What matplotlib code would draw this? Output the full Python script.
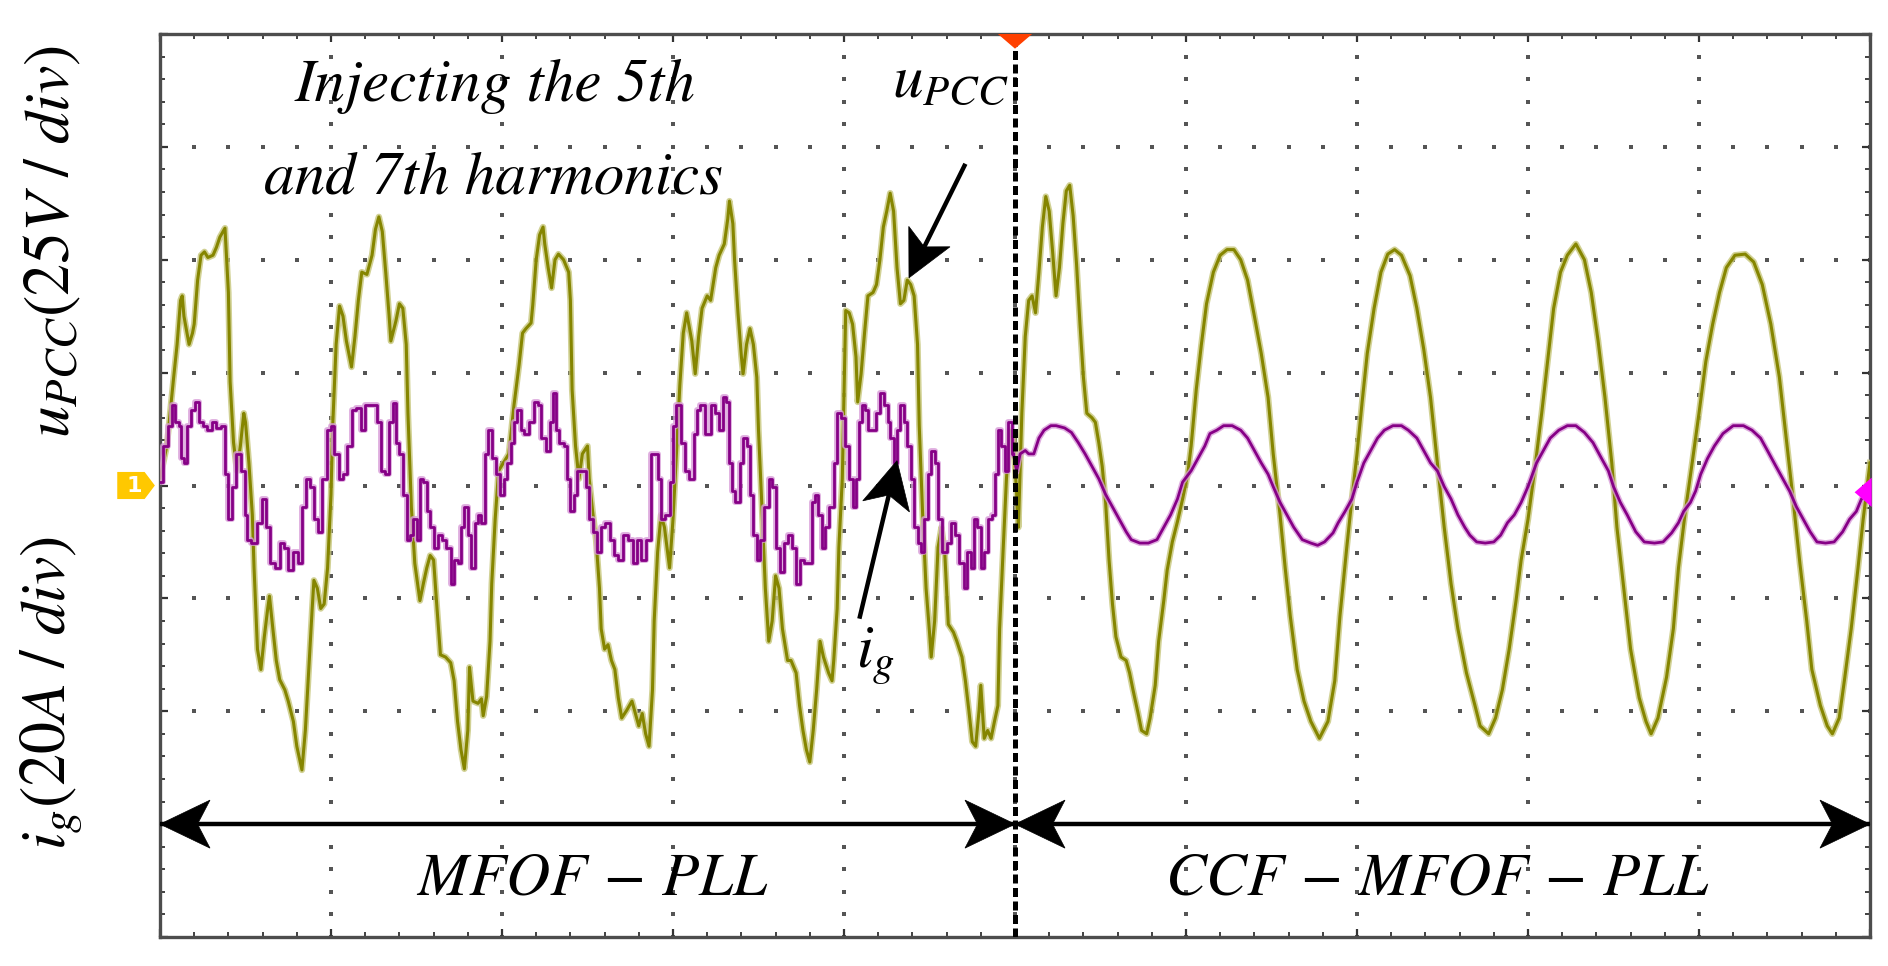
import numpy as np
import matplotlib
matplotlib.use('Agg')
import matplotlib.pyplot as plt
from matplotlib.patches import Polygon

plt.rcParams['mathtext.fontset'] = 'stix'

# scope screen: 10 x 8 divisions, values in div
# u_pcc: 25 V/div, i_g: 20 A/div
u_t = [0.00, 0.04, 0.08, 0.10, 0.12, 0.13, 0.14, 0.17, 0.19, 0.20, 0.22, 0.24, 0.26, 0.28, 0.31, 0.33, 0.35, 0.38,
       0.39, 0.40, 0.41, 0.43, 0.45, 0.47, 0.49, 0.50, 0.52, 0.54, 0.55, 0.57, 0.59, 0.61, 0.63, 0.64, 0.66, 0.68,
       0.70, 0.73, 0.75, 0.78, 0.80, 0.83, 0.85, 0.87, 0.89, 0.90, 0.92, 0.94, 0.96, 0.98, 1.00, 1.01, 1.03, 1.05,
       1.07, 1.09, 1.12, 1.14, 1.16, 1.18, 1.21, 1.24, 1.26, 1.28, 1.30, 1.32, 1.34, 1.35, 1.38, 1.40, 1.42, 1.44,
       1.45, 1.47, 1.49, 1.52, 1.54, 1.56, 1.58, 1.60, 1.62, 1.64, 1.67, 1.70, 1.72, 1.74, 1.76, 1.78, 1.80, 1.81,
       1.83, 1.86, 1.88, 1.89, 1.91, 1.93, 1.94, 1.96, 1.98,
       2.04, 2.07, 2.10, 2.12, 2.14, 2.17, 2.18, 2.20, 2.22, 2.24, 2.25, 2.27, 2.29, 2.31, 2.33, 2.36, 2.39, 2.40,
       2.41, 2.43, 2.45, 2.47, 2.50, 2.51, 2.53, 2.55, 2.57, 2.58, 2.60, 2.62, 2.64, 2.66, 2.68, 2.70, 2.73, 2.76,
       2.78, 2.80, 2.82, 2.84, 2.86, 2.88, 2.89, 2.91, 2.93, 2.95, 2.98, 3.00, 3.02, 3.04, 3.06, 3.08, 3.11, 3.13,
       3.15, 3.17, 3.20, 3.22, 3.25, 3.27, 3.30, 3.32, 3.33, 3.35, 3.36, 3.38, 3.40, 3.41, 3.43, 3.45, 3.47, 3.49,
       3.50, 3.52, 3.54, 3.56, 3.58, 3.60, 3.62, 3.64, 3.67, 3.69, 3.72, 3.74, 3.76, 3.78, 3.80, 3.82, 3.84, 3.86,
       3.88, 3.91, 3.93, 3.94, 3.96, 3.97, 3.99,
       4.01, 4.03, 4.05, 4.07, 4.08, 4.10, 4.12, 4.14, 4.17, 4.19, 4.21, 4.23, 4.25, 4.27, 4.29, 4.31, 4.33, 4.35,
       4.37, 4.39, 4.41, 4.43, 4.44, 4.46, 4.48, 4.50, 4.51, 4.53, 4.55, 4.57, 4.59, 4.61, 4.64, 4.66, 4.69, 4.71,
       4.73, 4.75, 4.77, 4.79, 4.80, 4.82, 4.84, 4.86, 4.88, 4.90, 4.91, 4.93, 4.95, 4.97, 4.99,
       5.01, 5.02, 5.04, 5.06, 5.08, 5.10, 5.12, 5.14, 5.16, 5.18, 5.20, 5.22, 5.24, 5.26, 5.28, 5.30, 5.32, 5.34,
       5.36, 5.38, 5.40, 5.42, 5.45, 5.47, 5.49, 5.51, 5.53, 5.55, 5.57, 5.59, 5.62, 5.65, 5.67, 5.69, 5.72, 5.74,
       5.77, 5.79, 5.82, 5.84, 5.87, 5.89, 5.92, 5.95, 5.98,
       6.01, 6.03, 6.06, 6.09, 6.12, 6.16, 6.20, 6.24, 6.28, 6.32, 6.36, 6.40, 6.44, 6.48, 6.51, 6.55, 6.58, 6.61,
       6.65, 6.69, 6.73, 6.78, 6.83, 6.87, 6.90, 6.94, 6.97, 7.00, 7.03, 7.06, 7.10, 7.14, 7.18, 7.22, 7.26, 7.31,
       7.35, 7.39, 7.43, 7.47, 7.51, 7.55, 7.59, 7.64, 7.69, 7.72, 7.77, 7.81, 7.85, 7.89, 7.93, 7.96,
       8.00, 8.04, 8.08, 8.12, 8.15, 8.19, 8.23, 8.28, 8.33, 8.37, 8.41, 8.45, 8.49, 8.52, 8.56, 8.60, 8.65, 8.69,
       8.72, 8.76, 8.81, 8.85, 8.88, 8.92, 8.96, 9.00, 9.04, 9.08, 9.12, 9.16, 9.21, 9.27, 9.32, 9.37, 9.42, 9.47,
       9.51, 9.55, 9.59, 9.63, 9.66, 9.71, 9.75, 9.78, 9.82, 9.85, 9.89, 9.93, 9.96, 10.00]
u_pcc = [0.06, 0.35, 0.96, 1.25, 1.64, 1.68, 1.50, 1.25, 1.35, 1.43, 1.82, 2.04, 2.07, 2.02, 2.04, 2.11, 2.20, 2.28,
         2.00, 1.71, 0.92, 0.38, 0.13, 0.35, 0.64, 0.56, 0.20, -0.26, -0.73, -1.45, -1.63, -1.34, -1.09, -0.98,
         -1.27, -1.55, -1.72, -1.81, -1.91, -2.09, -2.31, -2.52, -2.17, -1.63, -1.09, -0.84, -0.91, -1.09, -1.05,
         -0.73, -0.08, 0.53, 1.25, 1.59, 1.50, 1.28, 1.05, 1.32, 1.64, 1.89, 1.87, 2.04, 2.27, 2.38, 2.25, 1.89,
         1.50, 1.28, 1.46, 1.61, 1.57, 1.25, 0.64, -0.19, -0.69, -1.02, -0.87, -0.73, -0.62, -0.66, -1.09, -1.50,
         -1.52, -1.57, -1.73, -2.09, -2.34, -2.51, -2.17, -1.61, -1.91, -1.93, -1.89, -2.04, -1.87, -1.38, -0.87,
         -0.30, 0.13,
         0.28, 0.71, 1.07, 1.35, 1.39, 1.44, 1.60, 2.00, 2.22, 2.29, 2.14, 1.93, 1.75, 2.00, 2.05, 2.00, 1.89, 1.64,
         0.85, 0.35, 0.06, 0.28, 0.35, 0.06, -0.23, -0.48, -0.91, -1.27, -1.45, -1.41, -1.55, -1.63, -1.88, -2.06,
         -1.99, -1.91, -2.02, -2.13, -2.02, -2.20, -2.31, -1.81, -1.20, -0.59, -0.26, -0.37, -0.73, -0.30, 0.28,
         0.89, 1.35, 1.53, 1.28, 0.99, 1.32, 1.57, 1.68, 1.64, 1.93, 2.04, 2.14, 2.36, 2.52, 2.32, 2.00, 1.53,
         1.14, 0.99, 1.25, 1.39, 1.25, 0.96, 0.49, -0.19, -0.91, -1.38, -1.20, -0.80, -0.91, -1.27, -1.55, -1.55,
         -1.66, -1.95, -2.17, -2.34, -2.45, -2.17, -1.81, -1.38, -1.52, -1.66, -1.73, -1.55, -1.09, -0.55, 0.06,
         1.55, 1.53, 1.43, 1.14, 0.74, 0.99, 1.35, 1.68, 1.71, 1.78, 2.00, 2.29, 2.43, 2.59, 2.43, 1.93, 1.61, 1.64,
         1.82, 1.78, 1.68, 1.25, 0.53, -0.26, -0.91, -1.30, -1.52, -1.20, -0.55, -0.37, -0.62, -1.23, -1.30, -1.38,
         -1.52, -1.73, -1.99, -2.27, -2.31, -1.99, -1.77, -2.24, -2.17, -2.24, -2.09, -1.95, -1.27, -0.59, 0.06,
         0.49, 0.42,
         -0.08, -0.37, 0.64, 1.32, 1.64, 1.68, 1.53, 1.89, 2.29, 2.56, 2.43, 2.07, 1.68, 1.93, 2.32, 2.61, 2.66,
         2.39, 1.96, 1.43, 0.96, 0.64, 0.60, 0.56, 0.38, 0.17, -0.15, -0.66, -1.05, -1.34, -1.52, -1.55, -1.66,
         -1.81, -2.02, -2.17, -2.20, -2.06, -1.77, -1.38, -1.02, -0.75, -0.50, -0.32, -0.12,
         0.10, 0.35, 0.85, 1.25, 1.61, 1.89, 2.04, 2.09, 2.09, 2.00, 1.82, 1.50, 1.17, 0.78, 0.28, -0.26, -0.73,
         -1.16, -1.63, -1.91, -2.09, -2.24, -2.09, -1.73, -1.16, -0.55, -0.12, 0.28, 0.74, 1.17, 1.57, 1.89, 2.05,
         2.09, 2.04, 1.86, 1.57, 1.21, 0.78, 0.20, -0.37, -0.87, -1.27, -1.66, -1.95, -2.13, -2.20, -2.06, -1.81,
         -1.45, -1.02, -0.66,
         -0.30, 0.15, 0.64, 1.17, 1.57, 1.89, 2.04, 2.14, 2.00, 1.71, 1.28, 0.78, 0.20, -0.37, -0.91, -1.45, -1.88,
         -2.09, -2.20, -2.06, -1.70, -1.27, -0.73, -0.23, 0.20, 0.64, 1.10, 1.43, 1.71, 1.93, 2.04, 2.05, 1.98,
         1.78, 1.43, 0.96, 0.42, -0.12, -0.69, -1.20, -1.63, -1.95, -2.13, -2.20, -2.06, -1.73, -1.27, -0.73,
         -0.30, 0.20]

ig_t = [0.00, 0.03, 0.06, 0.08, 0.10, 0.12, 0.13, 0.15, 0.17, 0.19, 0.22, 0.24, 0.26, 0.29, 0.32, 0.34, 0.37, 0.39,
        0.41, 0.43, 0.46, 0.49, 0.50, 0.52, 0.55, 0.58, 0.61, 0.63, 0.66, 0.69, 0.71, 0.74, 0.76, 0.79, 0.82, 0.84,
        0.87, 0.89, 0.91, 0.94, 0.96, 0.99, 1.01, 1.03, 1.06, 1.08, 1.11, 1.13, 1.16, 1.19, 1.21, 1.24, 1.26, 1.28,
        1.30, 1.33, 1.35, 1.37, 1.39, 1.40, 1.44, 1.45, 1.47, 1.49, 1.51, 1.53, 1.55, 1.57, 1.59, 1.61, 1.64, 1.66,
        1.69, 1.71, 1.73, 1.75, 1.77, 1.79, 1.81, 1.83, 1.85, 1.87, 1.89, 1.91, 1.93, 1.95, 1.98,
        2.00, 2.02, 2.04, 2.06, 2.08, 2.10, 2.12, 2.14, 2.17, 2.20, 2.22, 2.24, 2.27, 2.29, 2.31, 2.32, 2.35, 2.37,
        2.39, 2.41, 2.43, 2.45, 2.48, 2.50, 2.52, 2.54, 2.57, 2.59, 2.62, 2.64, 2.67, 2.69, 2.72, 2.75, 2.78, 2.80,
        2.83, 2.86, 2.88, 2.90, 2.92, 2.94, 2.97, 2.99, 3.01, 3.03, 3.06, 3.08, 3.11, 3.13, 3.15, 3.17, 3.21, 3.23,
        3.26, 3.28, 3.30, 3.32, 3.34, 3.35, 3.38, 3.40, 3.42, 3.44, 3.46, 3.48, 3.50, 3.52, 3.55, 3.57, 3.59, 3.61,
        3.64, 3.66, 3.68, 3.71, 3.73, 3.75, 3.78, 3.80, 3.82, 3.84, 3.86, 3.88, 3.90, 3.93, 3.95, 3.97, 3.99,
        4.02, 4.04, 4.06, 4.08, 4.10, 4.11, 4.13, 4.15, 4.18, 4.20, 4.22, 4.25, 4.26, 4.28, 4.30, 4.32, 4.34, 4.36,
        4.38, 4.40, 4.42, 4.44, 4.46, 4.48, 4.50, 4.52, 4.54, 4.56, 4.59, 4.61, 4.64, 4.66, 4.69, 4.71, 4.73, 4.75,
        4.77, 4.79, 4.81, 4.83, 4.85, 4.88, 4.89, 4.91, 4.93, 4.95, 4.97, 4.99,
        5.01, 5.03, 5.06, 5.08, 5.11, 5.14, 5.17, 5.21, 5.24, 5.29, 5.33, 5.37, 5.41, 5.45, 5.49, 5.53, 5.57, 5.61,
        5.65, 5.68, 5.73, 5.78, 5.83, 5.87, 5.91, 5.95, 5.98,
        6.03, 6.07, 6.11, 6.14, 6.18, 6.22, 6.27, 6.32, 6.36, 6.40, 6.44, 6.48, 6.51, 6.55, 6.59, 6.63, 6.68, 6.73,
        6.77, 6.81, 6.86, 6.89, 6.93, 6.97, 7.00, 7.04, 7.08, 7.12, 7.16, 7.21, 7.26, 7.30, 7.35, 7.39, 7.43, 7.47,
        7.51, 7.55, 7.59, 7.63, 7.66, 7.70, 7.75, 7.80, 7.84, 7.88, 7.92, 7.96,
        8.00, 8.05, 8.09, 8.13, 8.18, 8.23, 8.28, 8.33, 8.38, 8.43, 8.47, 8.50, 8.54, 8.58, 8.63, 8.68, 8.74, 8.79,
        8.84, 8.88, 8.91, 8.95, 8.98, 9.01, 9.05, 9.09, 9.14, 9.20, 9.26, 9.31, 9.36, 9.40, 9.45, 9.49, 9.53, 9.57,
        9.61, 9.65, 9.69, 9.74, 9.79, 9.84, 9.88, 9.92, 9.95, 10.00]
ig = [0.03, 0.35, 0.53, 0.71, 0.56, 0.53, 0.24, 0.20, 0.53, 0.67, 0.74, 0.56, 0.53, 0.49, 0.56, 0.51, 0.53, 0.10,
      -0.30, -0.01, 0.28, 0.13, -0.26, -0.48, -0.51, -0.33, -0.12, -0.37, -0.69, -0.73, -0.51, -0.55, -0.75, -0.59,
      -0.69, -0.19, 0.06, -0.01, -0.30, -0.41, 0.06, 0.49, 0.53, 0.28, 0.06, 0.10, 0.35, 0.67, 0.69, 0.49, 0.71,
      0.71, 0.71, 0.56, 0.13, 0.10, 0.56, 0.73, 0.38, 0.28, -0.08, -0.48, -0.44, -0.30, -0.48, 0.06, 0.03, -0.23,
      -0.37, -0.55, -0.44, -0.48, -0.55, -0.87, -0.66, -0.69, -0.37, -0.19, -0.44, -0.73, -0.33, -0.26, -0.33,
      0.28, 0.49, 0.24, 0.10,
      -0.08, 0.06, 0.20, 0.38, 0.56, 0.67, 0.49, 0.46, 0.56, 0.74, 0.71, 0.42, 0.31, 0.56, 0.82, 0.49, 0.38, 0.35,
      0.06, -0.23, -0.08, 0.13, 0.13, -0.01, -0.30, -0.41, -0.59, -0.37, -0.33, -0.48, -0.62, -0.66, -0.44, -0.48,
      -0.69, -0.48, -0.66, -0.48, 0.28, 0.28, 0.06, -0.30, -0.26, 0.03, 0.53, 0.71, 0.38, 0.13, 0.06, 0.46, 0.67,
      0.71, 0.46, 0.71, 0.64, 0.49, 0.78, 0.74, 0.20, -0.05, -0.15, 0.20, 0.42, 0.35, -0.08, -0.44, -0.66, -0.48,
      -0.19, 0.06, -0.01, -0.55, -0.77, -0.51, -0.44, -0.55, -0.87, -0.66, -0.69, -0.69, -0.15, -0.08, -0.26,
      -0.55, -0.37, -0.19, 0.20, 0.64, 0.60,
      0.35, 0.06, -0.19, 0.06, 0.56, 0.71, 0.67, 0.49, 0.49, 0.64, 0.82, 0.71, 0.56, 0.42, 0.20, 0.49, 0.71, 0.56,
      0.35, 0.06, -0.37, -0.51, -0.59, -0.30, 0.10, 0.31, 0.20, -0.30, -0.59, -0.51, -0.33, -0.44, -0.69, -0.91,
      -0.59, -0.73, -0.30, -0.37, -0.73, -0.59, -0.30, -0.26, 0.10, 0.49, 0.35, 0.13, 0.56, 0.28,
      0.13, 0.28, 0.31, 0.28, 0.28, 0.42, 0.49, 0.53, 0.53, 0.51, 0.47, 0.38, 0.28, 0.17, 0.06, -0.08, -0.19, -0.30,
      -0.41, -0.48, -0.51, -0.51, -0.48, -0.37, -0.26, -0.12, 0.03,
      0.13, 0.24, 0.35, 0.46, 0.49, 0.53, 0.53, 0.49, 0.42, 0.31, 0.20, 0.10, -0.01, -0.15, -0.26, -0.37, -0.48,
      -0.51, -0.53, -0.50, -0.42, -0.33, -0.23, -0.12, 0.03, 0.20, 0.31, 0.42, 0.49, 0.53, 0.53, 0.49, 0.42, 0.31,
      0.20, 0.13, -0.01, -0.12, -0.26, -0.37, -0.44, -0.50, -0.51, -0.50, -0.44, -0.33, -0.26, -0.15,
      -0.01, 0.20, 0.31, 0.42, 0.49, 0.53, 0.53, 0.47, 0.38, 0.24, 0.13, -0.01, -0.15, -0.26, -0.41, -0.50, -0.51,
      -0.50, -0.42, -0.33, -0.23, -0.15, -0.05, 0.10, 0.24, 0.35, 0.46, 0.53, 0.53, 0.49, 0.42, 0.31, 0.17, 0.06,
      -0.05, -0.19, -0.30, -0.41, -0.50, -0.51, -0.50, -0.41, -0.30, -0.23, -0.12, -0.05]

W, H = 1888, 966
ax_box = [160, 34, 1710, 903]   # left, top, width, height in px
sx = ax_box[2] / 10.0
sy = ax_box[3] / 8.0

times_it = dict(family='STIXGeneral', style='italic')


def stealth(ax, tip, d, length, width):
    # arrow head with a notch at the back, sizes in px
    d = np.array(d, float)
    d = d / np.hypot(*d)
    n = np.array([-d[1], d[0]])
    tp = np.array([tip[0] * sx, tip[1] * sy])
    pts = [tp, tp - d * length + n * width / 2, tp - d * length * 0.75, tp - d * length - n * width / 2]
    pts = [(p[0] / sx, p[1] / sy) for p in pts]
    ax.add_patch(Polygon(pts, closed=True, fc='k', ec='k', lw=0.5, zorder=9, clip_on=False))
    return pts[2]


def arrow(ax, tail, tip, length, width, lw):
    d = ((tip[0] - tail[0]) * sx, (tip[1] - tail[1]) * sy)
    notch = stealth(ax, tip, d, length, width)
    ax.plot([tail[0], notch[0]], [tail[1], notch[1]], color='k', lw=lw, solid_capstyle='butt', zorder=9)


fig = plt.figure(figsize=(W / 100, H / 100), dpi=100)
ax = fig.add_axes([ax_box[0] / W, 1 - (ax_box[1] + ax_box[3]) / H, ax_box[2] / W, ax_box[3] / H])
ax.set_xlim(0, 10)
ax.set_ylim(-4, 4)

# frame and ticks like the scope screen
for s in ax.spines.values():
    s.set_color('#4d4d4d')
    s.set_linewidth(2.4)
ax.set_xticks(np.arange(0, 11, 1))
ax.set_xticks(np.arange(0, 10.01, 0.2), minor=True)
ax.set_yticks(np.arange(-4, 5, 1))
ax.set_yticks(np.arange(-4, 4.01, 0.2), minor=True)
ax.tick_params(which='both', direction='in', top=True, right=True, labelbottom=False, labelleft=False,
               color='#333333')
ax.tick_params(which='major', length=6, width=1.6)
ax.tick_params(which='minor', length=3.5, width=1.3)

# dotted graticule
minor_y = np.arange(-4, 4.01, 0.2)
minor_x = np.arange(0, 10.01, 0.2)
for gx in range(1, 10):
    ax.plot(np.full_like(minor_y, gx), minor_y, ls='none', marker='s', ms=2.2, color='#555555', mew=0, zorder=1)
for gy in range(-3, 4):
    ax.plot(minor_x, np.full_like(minor_x, gy), ls='none', marker='s', ms=2.2, color='#555555', mew=0, zorder=1)

# traces (sampled look on the distorted part)
ig_t_a = np.array(ig_t)
ig_a = np.array(ig)
left = ig_t_a <= 5.0
ax.plot(u_t, u_pcc, color='#c6c67a', lw=4.6, alpha=0.8, zorder=3)
ax.plot(u_t, u_pcc, color='#858500', lw=2.2, zorder=4)
ax.plot(ig_t_a[left], ig_a[left], color='#d79ad7', lw=4.2, alpha=0.8, zorder=5, drawstyle='steps-mid')
ax.plot(ig_t_a[left], ig_a[left], color='#860086', lw=2.0, zorder=6, drawstyle='steps-mid')
ax.plot(ig_t_a[~left], ig_a[~left], color='#d79ad7', lw=4.2, alpha=0.8, zorder=5)
ax.plot(ig_t_a[~left], ig_a[~left], color='#860086', lw=2.0, zorder=6)
ax.plot(ig_t_a[left][-1:].tolist() + ig_t_a[~left][:1].tolist(), ig_a[left][-1:].tolist() + ig_a[~left][:1].tolist(),
        color='#860086', lw=2.0, zorder=6)

# switching instant
ax.plot([5, 5], [-4, 3.95], color='k', lw=3.6, ls=(0, (1.8, 0.9)), zorder=8)
ax.add_patch(Polygon([(4.9, 4.0), (5.1, 4.0), (5.0, 3.87)], closed=True, fc='#ff4000', ec='none',
                     zorder=10, clip_on=False))
# channel markers
ax.add_patch(Polygon([(-0.25, 0.12), (-0.09, 0.12), (-0.03, 0.0), (-0.09, -0.12), (-0.25, -0.12)],
                     closed=True, fc='#ffc800', ec='none', clip_on=False, zorder=10))
ax.text(-0.15, -0.005, '1', color='white', fontsize=16, fontweight='bold', ha='center', va='center',
        clip_on=False, zorder=11)
ax.add_patch(Polygon([(10.01, 0.07), (10.01, -0.19), (9.91, -0.06)], closed=True, fc='#ff00ff', ec='none',
                     clip_on=False, zorder=10))

# annotations
ax.text(1.96, 3.41, 'Injecting the 5th', fontsize=44, ha='center', va='baseline', zorder=12, **times_it)
ax.text(1.95, 2.59, 'and 7th harmonics', fontsize=44, ha='center', va='baseline', zorder=12, **times_it)
ax.text(4.28, 3.44, r'$u_{PCC}$', fontsize=44, ha='left', va='baseline', zorder=12)
ax.text(4.07, -1.62, r'$i_g$', fontsize=44, ha='left', va='baseline', zorder=12)
arrow(ax, (4.71, 2.85), (4.38, 1.84), 46, 46, 3.2)
arrow(ax, (4.09, -1.18), (4.31, 0.22), 47, 48, 3.2)

# control method ranges
ax.plot([0, 5], [-3, -3], color='k', lw=3.2, zorder=9, solid_capstyle='butt')
ax.plot([5, 10], [-3, -3], color='k', lw=3.2, zorder=9, solid_capstyle='butt')
stealth(ax, (0, -3), (-1, 0), 50, 48)
stealth(ax, (5, -3), (1, 0), 50, 48)
stealth(ax, (5, -3), (-1, 0), 50, 48)
stealth(ax, (10, -3), (1, 0), 50, 48)
ax.text(2.53, -3.62, r'$MFOF\,-\,PLL$', fontsize=44, ha='center', va='baseline', zorder=12)
ax.text(7.47, -3.62, r'$CCF\,-\,MFOF\,-\,PLL$', fontsize=44, ha='center', va='baseline', zorder=12)

# channel scales
fig.text(0.0275, 0.7495, r'$u_{PCC}(25V\ /\ div)$', fontsize=46, rotation=90, ha='center', va='center')
fig.text(0.0275, 0.2826, r'$i_g(20A\ /\ div)$', fontsize=46, rotation=90, ha='center', va='center')

fig.savefig('out.png', dpi=100)
